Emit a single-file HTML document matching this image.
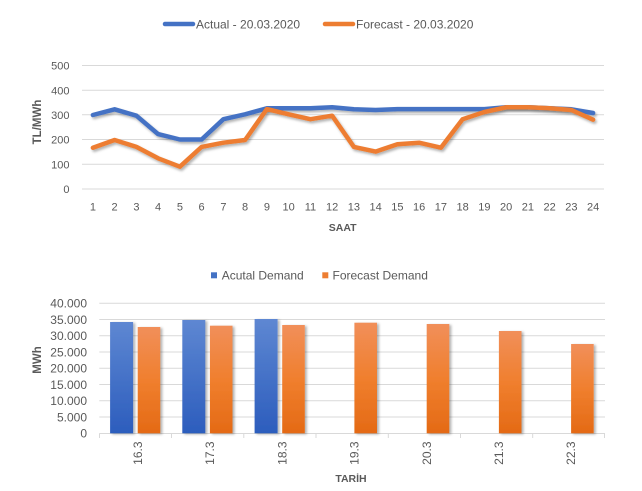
<!DOCTYPE html>
<html>
<head>
<meta charset="utf-8">
<style>
  html,body{margin:0;padding:0;background:#fff;}
  svg{display:block;}
  text{font-family:"Liberation Sans", "DejaVu Sans", sans-serif; fill:#595959;}
</style>
</head>
<body>
<svg width="642" height="491" viewBox="0 0 642 491" xmlns="http://www.w3.org/2000/svg">
  <defs>
    <filter id="sh" x="-10%" y="-10%" width="120%" height="130%">
      <feDropShadow dx="1.5" dy="2" stdDeviation="1.2" flood-color="#000" flood-opacity="0.3"/>
    </filter>
    <filter id="bsh" x="-20%" y="-5%" width="140%" height="110%">
      <feDropShadow dx="2" dy="1" stdDeviation="1.2" flood-color="#000" flood-opacity="0.3"/>
    </filter>
    <linearGradient id="gb" x1="0" y1="0" x2="0" y2="1">
      <stop offset="0" stop-color="#5E87D2"/>
      <stop offset="1" stop-color="#2C5DBD"/>
    </linearGradient>
    <linearGradient id="go" x1="0" y1="0" x2="0" y2="1">
      <stop offset="0" stop-color="#F18F5A"/>
      <stop offset="0.5" stop-color="#F07F2E"/>
      <stop offset="1" stop-color="#E46A15"/>
    </linearGradient>
  </defs>

  <!-- ============ TOP CHART ============ -->
  <!-- legend -->
  <line x1="165" y1="24" x2="193" y2="24" stroke="#4472C4" stroke-width="4.5" stroke-linecap="round"/>
  <text x="196" y="28.3" font-size="12">Actual - 20.03.2020</text>
  <line x1="325" y1="24" x2="353" y2="24" stroke="#ED7D31" stroke-width="4.5" stroke-linecap="round"/>
  <text x="356" y="28.3" font-size="12">Forecast - 20.03.2020</text>

  <!-- gridlines -->
  <g stroke="#d9d9d9" stroke-width="1">
    <line x1="82" y1="65.5" x2="604" y2="65.5"/>
    <line x1="82" y1="90.3" x2="604" y2="90.3"/>
    <line x1="82" y1="114.8" x2="604" y2="114.8"/>
    <line x1="82" y1="139.5" x2="604" y2="139.5"/>
    <line x1="82" y1="164.3" x2="604" y2="164.3"/>
    <line x1="82" y1="189" x2="604" y2="189"/>
  </g>
  <!-- y ticks -->
  <g font-size="11" text-anchor="end">
    <text x="69.5" y="69.5">500</text>
    <text x="69.5" y="94.3">400</text>
    <text x="69.5" y="118.8">300</text>
    <text x="69.5" y="143.5">200</text>
    <text x="69.5" y="168.3">100</text>
    <text x="69.5" y="193">0</text>
  </g>
  <!-- x ticks -->
  <g font-size="11" text-anchor="middle">
    <text x="92.9" y="210.7">1</text>
    <text x="114.6" y="210.7">2</text>
    <text x="136.4" y="210.7">3</text>
    <text x="158.1" y="210.7">4</text>
    <text x="179.9" y="210.7">5</text>
    <text x="201.6" y="210.7">6</text>
    <text x="223.4" y="210.7">7</text>
    <text x="245.1" y="210.7">8</text>
    <text x="266.9" y="210.7">9</text>
    <text x="288.6" y="210.7">10</text>
    <text x="310.4" y="210.7">11</text>
    <text x="332.1" y="210.7">12</text>
    <text x="353.9" y="210.7">13</text>
    <text x="375.6" y="210.7">14</text>
    <text x="397.4" y="210.7">15</text>
    <text x="419.1" y="210.7">16</text>
    <text x="440.9" y="210.7">17</text>
    <text x="462.6" y="210.7">18</text>
    <text x="484.4" y="210.7">19</text>
    <text x="506.1" y="210.7">20</text>
    <text x="527.9" y="210.7">21</text>
    <text x="549.6" y="210.7">22</text>
    <text x="571.4" y="210.7">23</text>
    <text x="593.1" y="210.7">24</text>
  </g>
  <!-- axis titles -->
  <text x="342.7" y="231" font-size="10.5" font-weight="bold" text-anchor="middle">SAAT</text>
  <text transform="translate(41,122) rotate(-90)" font-size="11.5" font-weight="bold" text-anchor="middle">TL/MWh</text>

  <!-- series -->
  <polyline filter="url(#sh)" fill="none" stroke="#4472C4" stroke-width="4.5" stroke-linejoin="round" stroke-linecap="round"
    points="92.9,115 114.6,109.3 136.4,115.7 158.1,134.1 179.9,139.5 201.6,139.5 223.4,119.2 245.1,114.3 266.9,108.3 288.6,108.3 310.4,108.3 332.1,107.3 353.9,109.3 375.6,110 397.4,109.1 419.1,109.1 440.9,109.1 462.6,109.1 484.4,109.1 506.1,107.3 527.9,107.3 549.6,108.3 571.4,109.3 593.1,113"/>
  <polyline filter="url(#sh)" fill="none" stroke="#ED7D31" stroke-width="4.5" stroke-linejoin="round" stroke-linecap="round"
    points="92.9,147.7 114.6,140 136.4,146.9 158.1,158.3 179.9,166.7 201.6,146.9 223.4,142.7 245.1,140 266.9,109.1 288.6,114.3 310.4,119.2 332.1,115.7 353.9,146.9 375.6,151.6 397.4,144.2 419.1,142.7 440.9,147.7 462.6,119.2 484.4,112 506.1,107.3 527.9,107.3 549.6,108.3 571.4,110 593.1,119.7"/>

  <!-- ============ BOTTOM CHART ============ -->
  <!-- legend -->
  <rect x="211" y="272.3" width="6" height="6" fill="#4472C4"/>
  <text x="221.7" y="279.6" font-size="12">Acutal Demand</text>
  <rect x="322.3" y="272.3" width="6" height="6" fill="#ED7D31"/>
  <text x="332.5" y="279.6" font-size="12">Forecast Demand</text>

  <!-- gridlines -->
  <g stroke="#d9d9d9" stroke-width="1">
    <line x1="99.3" y1="303.3" x2="605" y2="303.3"/>
    <line x1="99.3" y1="319.55" x2="605" y2="319.55"/>
    <line x1="99.3" y1="335.8" x2="605" y2="335.8"/>
    <line x1="99.3" y1="352.05" x2="605" y2="352.05"/>
    <line x1="99.3" y1="368.3" x2="605" y2="368.3"/>
    <line x1="99.3" y1="384.55" x2="605" y2="384.55"/>
    <line x1="99.3" y1="400.8" x2="605" y2="400.8"/>
    <line x1="99.3" y1="417.05" x2="605" y2="417.05"/>
    <line x1="99.3" y1="433.5" x2="605" y2="433.5"/>
    <!-- category ticks -->
    <line x1="99.5" y1="433.5" x2="99.5" y2="438"/>
    <line x1="171.5" y1="433.5" x2="171.5" y2="438"/>
    <line x1="243.8" y1="433.5" x2="243.8" y2="438"/>
    <line x1="316" y1="433.5" x2="316" y2="438"/>
    <line x1="388.3" y1="433.5" x2="388.3" y2="438"/>
    <line x1="460.5" y1="433.5" x2="460.5" y2="438"/>
    <line x1="532.7" y1="433.5" x2="532.7" y2="438"/>
    <line x1="604.5" y1="433.5" x2="604.5" y2="438"/>
  </g>
  <!-- y ticks -->
  <g font-size="12" text-anchor="end">
    <text x="87" y="307.6">40.000</text>
    <text x="87" y="323.85">35.000</text>
    <text x="87" y="340.1">30.000</text>
    <text x="87" y="356.35">25.000</text>
    <text x="87" y="372.6">20.000</text>
    <text x="87" y="388.85">15.000</text>
    <text x="87" y="405.1">10.000</text>
    <text x="87" y="421.35">5.000</text>
    <text x="87" y="437.6">0</text>
  </g>

  <!-- bars -->
  <g filter="url(#bsh)">
    <rect x="110.1" y="322" width="23" height="111.3" fill="url(#gb)"/>
    <rect x="137.7" y="327" width="22.6" height="106.3" fill="url(#go)"/>
    <rect x="182.3" y="320" width="23" height="113.3" fill="url(#gb)"/>
    <rect x="209.9" y="325.7" width="22.6" height="107.6" fill="url(#go)"/>
    <rect x="254.6" y="319" width="23" height="114.3" fill="url(#gb)"/>
    <rect x="282.2" y="325" width="22.6" height="108.3" fill="url(#go)"/>
    <rect x="354.4" y="322.7" width="22.6" height="110.6" fill="url(#go)"/>
    <rect x="426.7" y="324" width="22.6" height="109.3" fill="url(#go)"/>
    <rect x="498.9" y="331" width="22.6" height="102.3" fill="url(#go)"/>
    <rect x="571.1" y="344" width="22.6" height="89.3" fill="url(#go)"/>
  </g>

  <!-- x labels rotated -->
  <g font-size="12" text-anchor="end">
    <text transform="translate(141.8,441.5) rotate(-90)">16.3</text>
    <text transform="translate(214,441.5) rotate(-90)">17.3</text>
    <text transform="translate(286.3,441.5) rotate(-90)">18.3</text>
    <text transform="translate(358.5,441.5) rotate(-90)">19.3</text>
    <text transform="translate(430.8,441.5) rotate(-90)">20.3</text>
    <text transform="translate(503,441.5) rotate(-90)">21.3</text>
    <text transform="translate(575.2,441.5) rotate(-90)">22.3</text>
  </g>

  <!-- axis titles -->
  <text x="351" y="482" font-size="10.5" font-weight="bold" text-anchor="middle">TARİH</text>
  <text transform="translate(40.8,360) rotate(-90)" font-size="11.5" font-weight="bold" text-anchor="middle">MWh</text>
</svg>
</body>
</html>
